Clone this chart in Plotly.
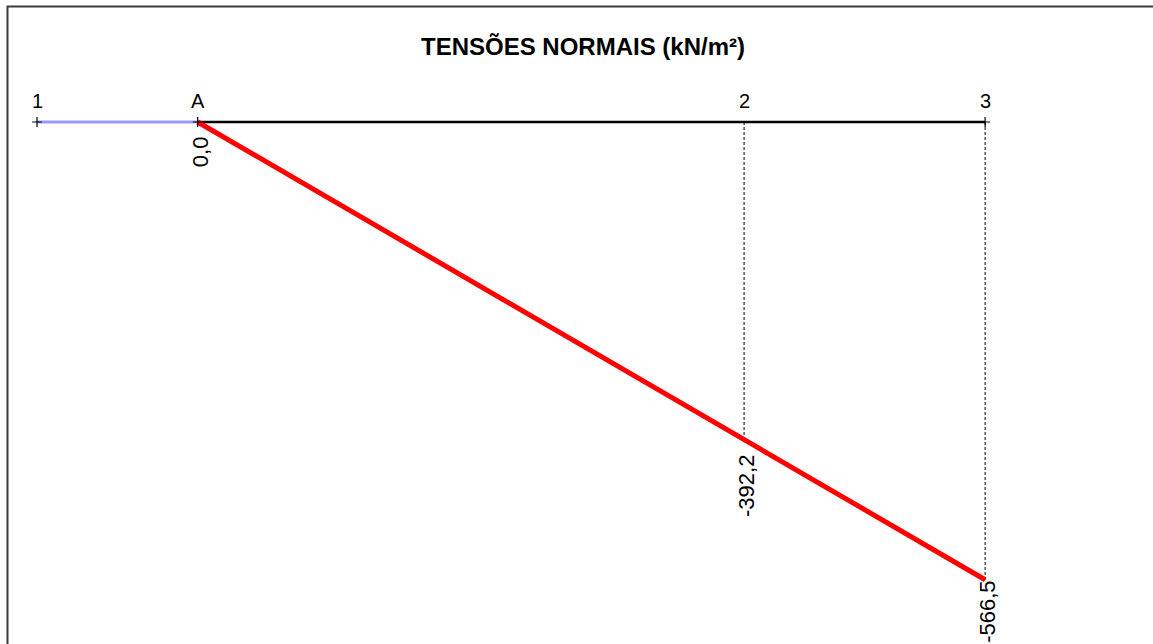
import plotly.graph_objects as go

# Sections along the member and their labels
section_labels = ["1", "A", "2", "3"]
section_pos = [0.0, 1.0, 4.4, 5.9]

# Normal stresses (kN/m²) at the loaded sections A, 2, 3
stress_labels = ["A", "2", "3"]
stress_values = [0.0, -392.2, -566.5]

W, H = 1153, 644
pos = dict(zip(section_labels, section_pos))
stress_x = [pos[s] for s in stress_labels]

fig = go.Figure()

# Unloaded stretch 1 -> A
fig.add_trace(go.Scatter(x=[pos["1"], pos["A"]], y=[0, 0], mode="lines",
                         line=dict(color="#9b9bf5", width=3), hoverinfo="skip"))
# Reference axis A -> 3
fig.add_trace(go.Scatter(x=[pos["A"], pos["3"]], y=[0, 0], mode="lines",
                         line=dict(color="black", width=2.5), hoverinfo="skip"))
# Dashed ordinates at sections 2 and 3
for s, v in zip(stress_labels, stress_values):
    if v != 0:
        fig.add_trace(go.Scatter(x=[pos[s], pos[s]], y=[0, v], mode="lines",
                                 line=dict(color="black", width=1, dash="3px,2px"),
                                 hoverinfo="skip"))
# Stress diagram
fig.add_trace(go.Scatter(x=stress_x, y=stress_values, mode="lines",
                         line=dict(color="#ff0000", width=5), hoverinfo="skip"))
# Node ticks
fig.add_trace(go.Scatter(x=[pos["1"], pos["A"], pos["3"]], y=[0, 0, 0], mode="markers",
                         marker=dict(symbol="cross-thin", size=7,
                                     line=dict(color="black", width=1.2)),
                         hoverinfo="skip"))

annotations = []
for lab, x in zip(section_labels, section_pos):
    annotations.append(dict(x=x, y=0, text=lab, showarrow=False, xanchor="center",
                            yanchor="middle", yshift=21,
                            font=dict(family="Liberation Sans, Arial", size=20, color="black")))
value_shift = [-12, -14, 1]
for x, v, dy in zip(stress_x, stress_values, value_shift):
    annotations.append(dict(x=x, y=v, text=f"{v:.1f}".replace(".", ","), showarrow=False,
                            textangle=-90, xanchor="center", yanchor="top", yshift=dy,
                            xshift=3,
                            font=dict(family="Liberation Sans, Arial", size=22, color="black")))
annotations.append(dict(xref="paper", yref="paper", x=583 / W, y=1 - 47 / H,
                        text="<b>TENSÕES NORMAIS (kN/m²)</b>", showarrow=False,
                        xanchor="center", yanchor="middle",
                        font=dict(family="Liberation Sans, Arial", size=24, color="black")))

# Scales: 160.7 px per unit along the member, 0.808 px per kN/m²
px_x, x0_px = 160.7, 37.0
px_y, y0_px = 0.808, 122.0
xr = [(0 - x0_px) / px_x, (W - x0_px) / px_x]
yr = [-(H - y0_px) / px_y, y0_px / px_y]

fig.update_layout(
    width=W, height=H,
    margin=dict(l=0, r=0, t=0, b=0),
    paper_bgcolor="white", plot_bgcolor="white",
    showlegend=False,
    xaxis=dict(range=xr, visible=False, fixedrange=True),
    yaxis=dict(range=yr, visible=False, fixedrange=True),
    annotations=annotations,
    shapes=[dict(type="rect", xref="paper", yref="paper",
                 x0=7.5 / W, x1=1.05, y0=-0.05, y1=1 - 6.5 / H,
                 line=dict(color="#3a3a3a", width=2))],
)

fig.write_html("out.html")
